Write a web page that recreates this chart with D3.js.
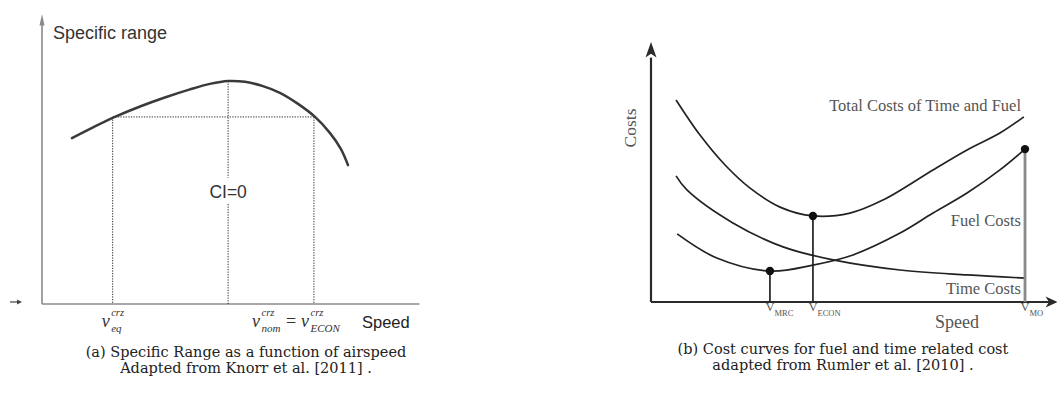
<!DOCTYPE html>
<html>
<head>
<meta charset="utf-8">
<script src="https://cdn.jsdelivr.net/npm/d3@7"></script>
<style>
  html, body { margin: 0; padding: 0; background: #fff; }
  svg { display: block; }
</style>
</head>
<body>
<svg id="chart" width="1057" height="403"></svg>
<script>
// ---------- Panel (a): Specific range ----------
const srSpeed = [0.81, 1.38, 1.97, 2.65, 3.32, 4.00, 4.54, 5.03, 5.49, 5.95, 6.43, 6.92, 7.38, 7.78, 8.08, 8.27];
const srValue = [5.72, 6.09, 6.45, 6.81, 7.12, 7.40, 7.59, 7.69, 7.66, 7.52, 7.28, 6.90, 6.45, 5.90, 5.34, 4.79];
const srRefSpeeds = [1.91, 5.03, 7.35];          // v_eq, v_nom, v_ECON
const srRefValues = [6.45, 7.69, 6.45];          // curve value at those speeds
const srLevel = 6.45;                            // equal-SR level
const srCaption = ["(a) Specific Range as a function of airspeed", "Adapted from Knorr et al. [2011] ."];

// ---------- Panel (b): Cost curves ----------
const totalSpeed = [0.67, 1.31, 1.98, 2.65, 3.45, 4.33, 5.32, 6.20, 7.54, 8.45, 9.33, 9.97];
const totalCost  = [7.77, 6.42, 5.27, 4.38, 3.65, 3.31, 3.42, 3.92, 5.08, 5.85, 6.50, 7.12];
const fuelSpeed  = [0.70, 1.76, 3.18, 4.33, 5.40, 6.66, 7.54, 8.45, 9.33, 10.0];
const fuelCost   = [2.62, 1.69, 1.19, 1.42, 1.81, 2.65, 3.42, 4.19, 5.08, 5.88];
const timeSpeed  = [0.67, 0.96, 2.19, 3.53, 4.87, 6.66, 8.45, 10.0];
const timeCost   = [4.85, 4.31, 3.04, 2.12, 1.62, 1.23, 1.04, 0.92];
const markSpeeds = [3.18, 4.33, 10.0];
const markCosts  = [1.19, 3.31, 5.88];
const markLabels = ["MRC", "ECON", "MO"];
const curveLabels = ["Total Costs of Time and Fuel", "Fuel Costs", "Time Costs"];
const curveLabelCost = [7.36, 2.91, 0.30];
const costCaption = ["(b) Cost curves for fuel and time related cost", "adapted from Rumler et al. [2010] ."];

const svg = d3.select("#chart");
const zip = (xs, ys) => xs.map((x, i) => [x, ys[i]]);

// ===== Panel (a) =====
const xa = d3.scaleLinear().domain([0, 10]).range([42, 412]);
const ya = d3.scaleLinear().domain([0, 10]).range([304, 14]);
const ga = svg.append("g");
const axisA = "#8a8a8a";

ga.append("line").attr("x1", xa(0)).attr("x2", xa(0)).attr("y1", ya(0)).attr("y2", ya(9.7))
  .attr("stroke", axisA).attr("stroke-width", 1.6);
ga.append("path").attr("d", `M${xa(0)-2.5},${ya(9.6)} L${xa(0)},${ya(10)} L${xa(0)+2.5},${ya(9.6)} Z`)
  .attr("fill", axisA);
ga.append("line").attr("x1", xa(0)).attr("x2", xa(10.2)).attr("y1", ya(0)).attr("y2", ya(0))
  .attr("stroke", axisA).attr("stroke-width", 1.6);
ga.append("line").attr("x1", 10).attr("x2", 19).attr("y1", ya(0.07)).attr("y2", ya(0.07))
  .attr("stroke", "#444").attr("stroke-width", 1.2);
ga.append("path").attr("d", `M17,${ya(0.07)-2.5} L22,${ya(0.07)} L17,${ya(0.07)+2.5} Z`).attr("fill", "#444");

const dot = { stroke: "#333", "stroke-width": 1, "stroke-dasharray": "1.3,1.3" };
function dotted(x1, y1, x2, y2) {
  const l = ga.append("line").attr("x1", x1).attr("y1", y1).attr("x2", x2).attr("y2", y2);
  Object.entries(dot).forEach(([k, v]) => l.attr(k, v));
}
dotted(xa(srRefSpeeds[0]), ya(srLevel), xa(srRefSpeeds[2]), ya(srLevel));
dotted(xa(srRefSpeeds[0]), ya(srRefValues[0]), xa(srRefSpeeds[0]), ya(0));
dotted(xa(srRefSpeeds[2]), ya(srRefValues[2]), xa(srRefSpeeds[2]), ya(0));
dotted(xa(srRefSpeeds[1]), ya(srRefValues[1]), xa(srRefSpeeds[1]), ya(4.35));
dotted(xa(srRefSpeeds[1]), ya(3.45), xa(srRefSpeeds[1]), ya(0));

const lineA = d3.line().x(d => xa(d[0])).y(d => ya(d[1])).curve(d3.curveCatmullRom.alpha(0.5));
ga.append("path").datum(zip(srSpeed, srValue)).attr("d", lineA)
  .attr("fill", "none").attr("stroke", "#3a3a3a").attr("stroke-width", 2.5)
  .attr("stroke-linecap", "round");

const sans = "'Liberation Sans', Arial, sans-serif";
ga.append("text").attr("x", 53).attr("y", 39).text("Specific range")
  .attr("font-family", sans).attr("font-size", 18).attr("fill", "#333");
ga.append("text").attr("x", xa(srRefSpeeds[1])).attr("y", 198).attr("text-anchor", "middle").text("CI=0")
  .attr("font-family", sans).attr("font-size", 17.5).attr("fill", "#333");
ga.append("text").attr("x", 362).attr("y", 328).text("Speed")
  .attr("font-family", sans).attr("font-size", 16.5).attr("fill", "#222");

const serifI = "'Liberation Serif', 'Times New Roman', serif";
function vsym(x, base, sup, sub) {
  const g = ga.append("g").attr("font-family", serifI).attr("font-style", "italic").attr("fill", "#333");
  g.append("text").attr("x", x).attr("y", base).attr("font-size", 18).text("v");
  g.append("text").attr("x", x + 9.5).attr("y", base - 11).attr("font-size", 10.5).text(sup);
  g.append("text").attr("x", x + 9.5).attr("y", base + 5).attr("font-size", 11).text(sub);
}
vsym(xa(srRefSpeeds[0]) - 11, 327, "crz", "eq");
vsym(252, 327, "crz", "nom");
ga.append("text").attr("x", 286).attr("y", 327).attr("font-family", serifI).attr("font-size", 18)
  .attr("fill", "#333").text("=");
vsym(301, 327, "crz", "ECON");

// ===== Panel (b) =====
const xb = d3.scaleLinear().domain([0, 10]).range([651, 1025]);
const yb = d3.scaleLinear().domain([0, 10]).range([302, 42]);
const gb = svg.append("g");
const axisB = "#2a2a2a";

gb.append("line").attr("x1", xb(0)).attr("x2", xb(0)).attr("y1", yb(0)).attr("y2", yb(9.4))
  .attr("stroke", axisB).attr("stroke-width", 2.2);
gb.append("path").attr("d", `M${xb(0)-5.5},${yb(9.4)} L${xb(0)},${yb(10)} L${xb(0)+5.5},${yb(9.4)} L${xb(0)},${yb(9.55)} Z`)
  .attr("fill", axisB);
gb.append("line").attr("x1", xb(0)).attr("x2", xb(10.75)).attr("y1", yb(0)).attr("y2", yb(0))
  .attr("stroke", axisB).attr("stroke-width", 2.2);
gb.append("path").attr("d", `M${xb(10.55)},${yb(0)-5.5} L${xb(10.87)},${yb(0)} L${xb(10.55)},${yb(0)+5.5} L${xb(10.64)},${yb(0)} Z`)
  .attr("fill", axisB);

const lineB = d3.line().x(d => xb(d[0])).y(d => yb(d[1])).curve(d3.curveCatmullRom.alpha(0.5));
[[totalSpeed, totalCost], [fuelSpeed, fuelCost], [timeSpeed, timeCost]].forEach(([s, c]) => {
  gb.append("path").datum(zip(s, c)).attr("d", lineB)
    .attr("fill", "none").attr("stroke", "#222").attr("stroke-width", 1.7);
});

markSpeeds.forEach((s, i) => {
  const last = i === markSpeeds.length - 1;
  gb.append("line").attr("x1", xb(s)).attr("x2", xb(s)).attr("y1", yb(markCosts[i])).attr("y2", yb(0))
    .attr("stroke", last ? "#8a8a8a" : "#222").attr("stroke-width", last ? 2.8 : 1.7);
  gb.append("circle").attr("cx", xb(s)).attr("cy", yb(markCosts[i])).attr("r", 4.2).attr("fill", "#111");
});

const serif = "'Liberation Serif', 'Times New Roman', serif";
curveLabels.forEach((t, i) => {
  gb.append("text").attr("x", 1021).attr("y", yb(curveLabelCost[i])).attr("text-anchor", "end")
    .attr("font-family", serif).attr("font-size", 16.5).attr("fill", "#555").text(t);
});
gb.append("text").attr("transform", `translate(636,128) rotate(-90)`).attr("text-anchor", "middle")
  .attr("font-family", serif).attr("font-size", 17.5).attr("fill", "#555").text("Costs");
gb.append("text").attr("x", 957).attr("y", 328).attr("text-anchor", "middle")
  .attr("font-family", serif).attr("font-size", 18).attr("fill", "#555").text("Speed");
markSpeeds.forEach((s, i) => {
  const t = gb.append("text").attr("x", xb(s) - 4.5).attr("y", 311)
    .attr("font-family", serif).attr("fill", "#555");
  t.append("tspan").attr("font-size", 12.5).text("V");
  t.append("tspan").attr("font-size", 8.5).attr("dy", 5).text(markLabels[i]);
});

// ===== Captions =====
const capFont = "'DejaVu Serif', serif";
srCaption.forEach((t, i) => {
  svg.append("text").attr("x", 246).attr("y", 357 + i * 16).attr("text-anchor", "middle")
    .attr("font-family", capFont).attr("font-size", 14.5).attr("fill", "#222").text(t);
});
costCaption.forEach((t, i) => {
  svg.append("text").attr("x", 843).attr("y", 354 + i * 16).attr("text-anchor", "middle")
    .attr("font-family", capFont).attr("font-size", 14.5).attr("fill", "#222").text(t);
});
</script>
</body>
</html>
